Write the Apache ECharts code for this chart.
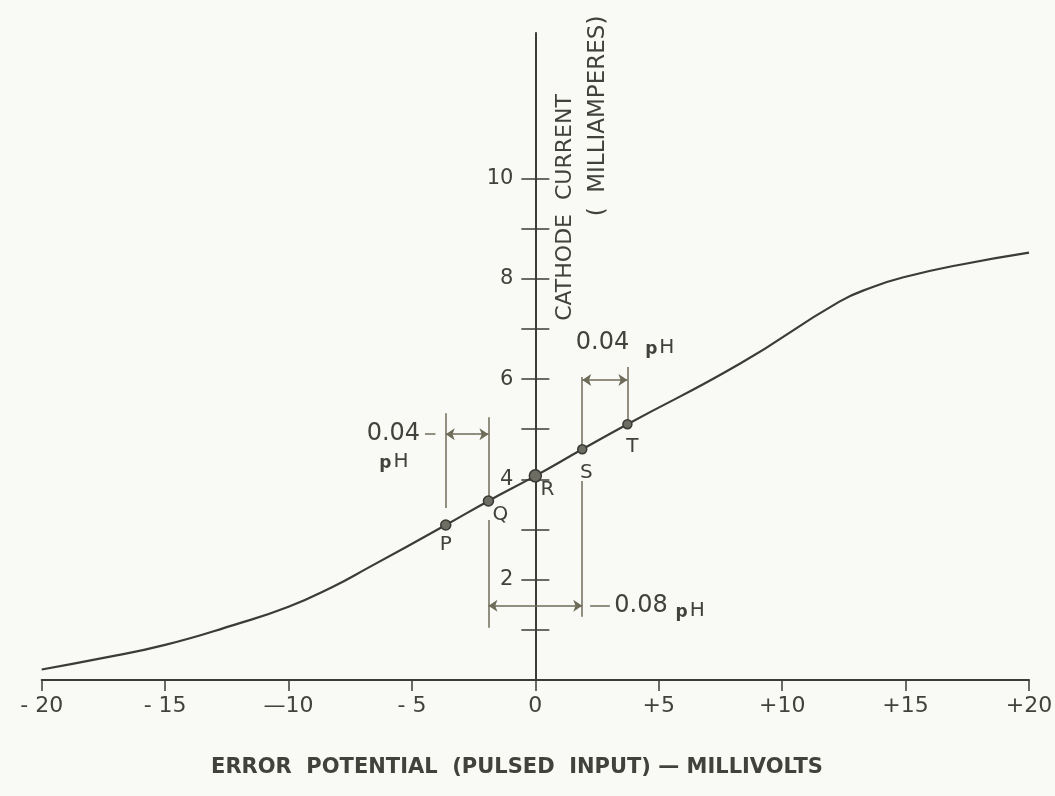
<!DOCTYPE html>
<html>
<head>
<meta charset="utf-8">
<script src="https://cdn.jsdelivr.net/npm/echarts@6/dist/echarts.min.js"></script>
<style>
html,body{margin:0;padding:0;background:#f9f9f5;}
#chart{width:1055px;height:796px;}
</style>
</head>
<body>
<div id="chart"></div>
<script>
// ---- data ----
const xTickValues = [-20, -15, -10, -5, 0, 5, 10, 15, 20];
const xTickLabels = ['- 20', '- 15', '—10', '- 5', '0', '+5', '+10', '+15', '+20'];
const yTickValues = [1, 2, 3, 4, 5, 6, 7, 8, 9, 10];
const yLabelValues = [2, 4, 6, 8, 10];

const curveX = [-20, -17.6, -15, -12.2, -10, -8.2, -6.8, -3.63, -1.9, 0, 1.9, 3.73, 8.3, 12.3, 13.7, 15, 17.1, 20];
const curveY = [0.21, 0.43, 0.70, 1.10, 1.46, 1.86, 2.23, 3.09, 3.57, 4.07, 4.60, 5.10, 6.31, 7.54, 7.84, 8.04, 8.27, 8.52];

const pointNames = ['P', 'Q', 'R', 'S', 'T'];
const pointX = [-3.63, -1.90, 0, 1.90, 3.73];
const pointY = [3.09, 3.57, 4.07, 4.60, 5.10];

// guide segments [x1, y1, x2, y2] in data units
const guideSegments = [
  [-3.63, 5.32, -3.63, 3.43],
  [-1.90, 5.24, -1.90, 3.65],
  [-1.90, 3.19, -1.90, 1.04],
  [1.90, 6.04, 1.90, 4.69],
  [1.90, 3.97, 1.90, 1.26],
  [3.73, 6.24, 3.73, 5.14],
  [-4.47, 4.90, -4.05, 4.90],
  [2.22, 1.48, 3.02, 1.48]
];
const arrowSegments = [
  [-3.63, 4.90, -1.90, 4.90],
  [1.90, 5.98, 3.73, 5.98],
  [-1.90, 1.48, 1.90, 1.48]
];
// annotation texts
const noteTexts = ['0.04', 'pH', '0.04', 'pH', '0.08', 'pH'];
const noteX = [-4.67, -5.73, 2.72, 5.04, 4.28, 6.27];
const noteY = [4.90, 4.39, 6.72, 6.66, 1.48, 1.42];

// ---- styling ----
const FONT = '"DejaVu Sans", "Liberation Sans", sans-serif';
const INK = '#3b3b37';
const TEXT = '#42423c';
const GUIDE = '#6e6b58';
const pointLabelOffset = [[0, 20], [12, 14], [12, 14], [4, 24], [5, 23]];
const pointSize = [10, 10, 12, 9, 9];
const noteAlign = ['right', 'center', 'center', 'center', 'center', 'center'];

const chart = echarts.init(document.getElementById('chart'));

const Y_MIN = 0, Y_MAX = 12.9;
const gridBox = { top: 33, bottom: 116, outerBoundsMode: 'none', containLabel: false };
const plotLeft = 41.7, plotRight = 26;
const plotWidth = 1055 - plotLeft - plotRight;
const zeroLeft = plotLeft + plotWidth * (0 - (-20)) / 40; // where x = 0 sits

const option = {
  animation: false,
  backgroundColor: '#f9f9f5',
  grid: [
    Object.assign({ left: plotLeft, right: plotRight }, gridBox),
    Object.assign({ left: zeroLeft, right: plotRight }, gridBox)
  ],
  xAxis: [
    {
      gridIndex: 0, type: 'value', min: -20, max: 20, interval: 5,
      axisLine: { onZero: false, lineStyle: { color: INK, width: 2 } },
      axisTick: { length: 11, lineStyle: { color: INK, width: 1.5 } },
      axisLabel: {
        margin: 15, fontSize: 22, color: TEXT, fontFamily: FONT,
        formatter: v => { const i = xTickValues.indexOf(v); return i >= 0 ? xTickLabels[i] : ''; }
      },
      splitLine: { show: false }
    },
    { gridIndex: 1, type: 'value', min: 0, max: 1, show: false }
  ],
  yAxis: [
    { gridIndex: 0, type: 'value', min: Y_MIN, max: Y_MAX, show: false },
    {
      gridIndex: 1, type: 'value', min: Y_MIN, max: Y_MAX, position: 'left',
      splitLine: { show: false },
      axisLine: { show: true, onZero: false, lineStyle: { color: INK, width: 2 } },
      axisTick: { show: true, customValues: yTickValues, length: 14, lineStyle: { color: INK, width: 1.5 } },
      axisLabel: { show: true, customValues: yLabelValues, margin: 22, fontSize: 21, color: TEXT, fontFamily: FONT }
    },
    {
      gridIndex: 1, type: 'value', min: Y_MIN, max: Y_MAX, position: 'left',
      splitLine: { show: false },
      axisLine: { show: false, onZero: false },
      axisTick: { show: true, inside: true, customValues: yTickValues, length: 14, lineStyle: { color: INK, width: 1.5 } },
      axisLabel: { show: false }
    }
  ],
  series: [
    {
      type: 'line', silent: true, z: 3,
      data: curveX.map((x, i) => [x, curveY[i]]),
      smooth: 0.5, symbol: 'none',
      lineStyle: { color: INK, width: 2.2 }
    },
    {
      type: 'lines', coordinateSystem: 'cartesian2d', silent: true, z: 2,
      symbol: 'none',
      lineStyle: { color: GUIDE, width: 1.5, opacity: 1 },
      data: guideSegments.map(s => ({ coords: [[s[0], s[1]], [s[2], s[3]]] }))
    },
    {
      type: 'lines', coordinateSystem: 'cartesian2d', silent: true, z: 2,
      symbol: ['arrow', 'arrow'], symbolSize: 9,
      lineStyle: { color: GUIDE, width: 1.5, opacity: 1 },
      data: arrowSegments.map(s => ({ coords: [[s[0], s[1]], [s[2], s[3]]] }))
    },
    {
      type: 'scatter', silent: true, z: 4,
      data: pointNames.map((n, i) => ({
        name: n, value: [pointX[i], pointY[i]], symbolSize: pointSize[i],
        label: { offset: pointLabelOffset[i] }
      })),
      itemStyle: { color: '#6e6d64', borderColor: '#3a3a35', borderWidth: 1.5, opacity: 1 },
      label: {
        show: true, position: 'inside', formatter: '{b}',
        fontSize: 20, color: TEXT, fontFamily: FONT
      }
    },
    {
      type: 'custom', coordinateSystem: 'cartesian2d', silent: true, z: 5,
      data: noteTexts.map((t, i) => [noteX[i], noteY[i], i]),
      renderItem: function (params, api) {
        const i = api.value(2);
        const p = api.coord([api.value(0), api.value(1)]);
        const t = noteTexts[i];
        if (t === 'pH') {
          return {
            type: 'text', x: p[0], y: p[1],
            style: {
              text: '{p|p}{h|H}', align: 'center', verticalAlign: 'middle',
              font: '20px ' + FONT, fill: TEXT,
              rich: {
                p: { fontSize: 17, fontFamily: FONT, fill: TEXT, fontWeight: 'bold', verticalAlign: 'bottom', padding: [7, 2, 0, 0] },
                h: { fontSize: 20, fontFamily: FONT, fill: TEXT, verticalAlign: 'bottom' }
              }
            }
          };
        }
        return {
          type: 'text', x: p[0], y: p[1],
          style: { text: t, font: '24px ' + FONT, fill: TEXT, align: noteAlign[i], verticalAlign: 'middle' }
        };
      }
    }
  ],
  graphic: [
    {
      type: 'text', x: 565, y: 207.5, rotation: Math.PI / 2, silent: true,
      style: { text: 'CATHODE  CURRENT', font: '22px ' + FONT, fill: TEXT, align: 'center', verticalAlign: 'middle' }
    },
    {
      type: 'text', x: 598, y: 116, rotation: Math.PI / 2, silent: true,
      style: { text: '(  MILLIAMPERES)', font: '23px ' + FONT, fill: TEXT, align: 'center', verticalAlign: 'middle' }
    },
    {
      type: 'text', x: 517, y: 768, silent: true,
      style: { text: 'ERROR  POTENTIAL  (PULSED  INPUT) — MILLIVOLTS', font: 'bold 21px ' + FONT, fill: TEXT, align: 'center', verticalAlign: 'middle' }
    }
  ]
};
chart.setOption(option);
</script>
</body>
</html>
